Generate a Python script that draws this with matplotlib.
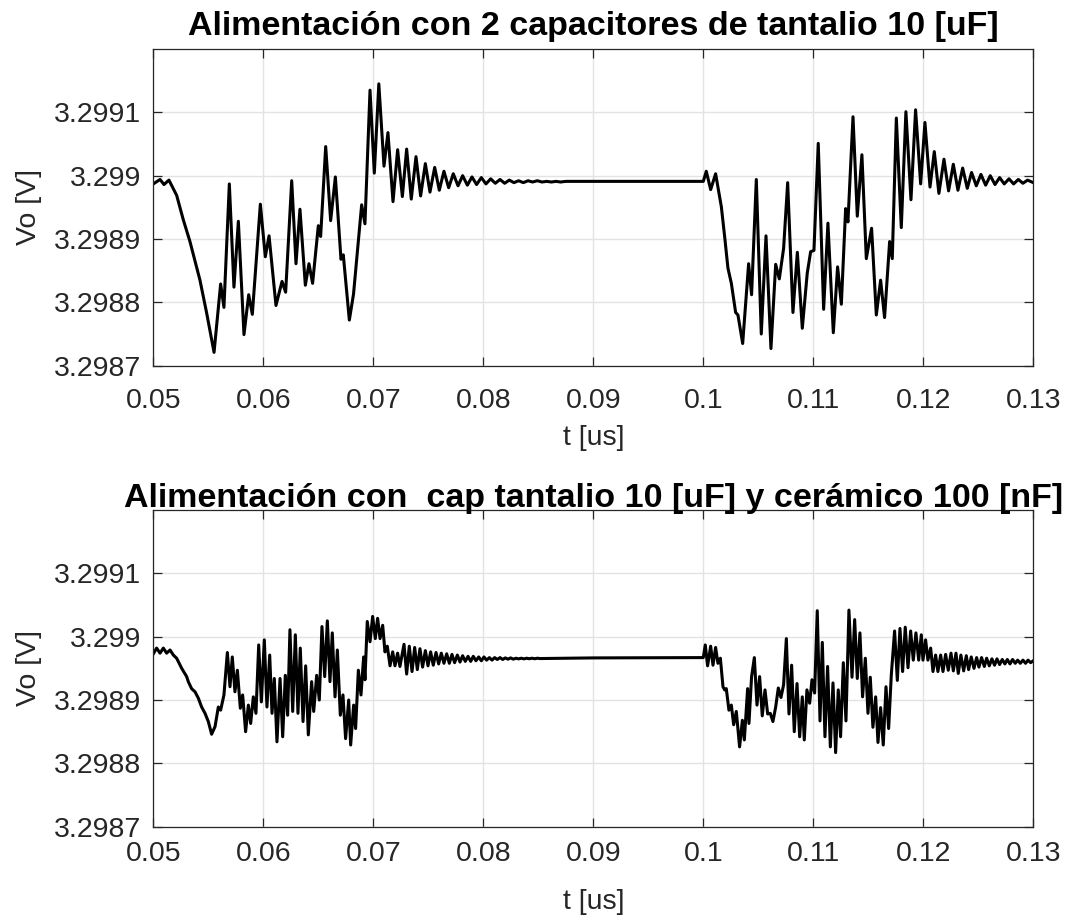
import matplotlib
matplotlib.use("Agg")
import matplotlib.pyplot as plt

plt.rcParams['font.family'] = ['Liberation Sans', 'DejaVu Sans']

# ---- upper trace: two 10 uF tantalum capacitors ----
top_t = [
    0.05000, 0.05061, 0.05097, 0.05142, 0.05212, 0.05273, 0.05333, 0.05424, 0.05485, 0.05552,
    0.05612, 0.05642, 0.05691, 0.05733, 0.05773, 0.05824, 0.05867, 0.05900, 0.05973, 0.06018,
    0.06052, 0.06115, 0.06170, 0.06203, 0.06258, 0.06297, 0.06333, 0.06382, 0.06415, 0.06448,
    0.06500, 0.06521, 0.06567, 0.06612, 0.06655, 0.06706, 0.06727, 0.06782, 0.06820, 0.06894,
    0.06924, 0.06970, 0.07009, 0.07050,
    0.07097, 0.07133, 0.07179, 0.07221, 0.07264, 0.07303, 0.07345, 0.07388, 0.07430, 0.07473,
    0.07515, 0.07558, 0.07600, 0.07642, 0.07685, 0.07727, 0.07770, 0.07812, 0.07855, 0.07897,
    0.07939, 0.07982, 0.08024, 0.08067, 0.08109, 0.08152, 0.08194, 0.08236, 0.08279, 0.08321,
    0.08364, 0.08406, 0.08448, 0.08491, 0.08533, 0.08576, 0.08618, 0.08661, 0.08703, 0.08750,
    0.10000,
    0.10027, 0.10067, 0.10112, 0.10164, 0.10194, 0.10224, 0.10255, 0.10294, 0.10315, 0.10358,
    0.10412, 0.10439, 0.10482, 0.10527, 0.10570, 0.10615, 0.10658, 0.10691, 0.10730, 0.10767,
    0.10815, 0.10855, 0.10900, 0.10945, 0.10976, 0.11006, 0.11045, 0.11094, 0.11133, 0.11182,
    0.11221, 0.11255, 0.11294, 0.11315, 0.11361, 0.11400, 0.11442, 0.11482, 0.11530, 0.11573,
    0.11612, 0.11648, 0.11694, 0.11718, 0.11755, 0.11800, 0.11842, 0.11888, 0.11930, 0.11976,
    0.12015, 0.12061, 0.12100, 0.12142, 0.12188, 0.12230, 0.12273, 0.12315, 0.12358, 0.12400,
    0.12439, 0.12482, 0.12524, 0.12567, 0.12609, 0.12652, 0.12694, 0.12736, 0.12779, 0.12821,
    0.12864, 0.12906, 0.12948, 0.13000,
]
top_v = [
    3.298987, 3.298994, 3.298986, 3.298993, 3.298969, 3.298930, 3.298896, 3.298835, 3.298783, 3.298721,
    3.298829, 3.298792, 3.298987, 3.298824, 3.298928, 3.298749, 3.298812, 3.298781, 3.298955, 3.298872,
    3.298905, 3.298795, 3.298833, 3.298816, 3.298992, 3.298861, 3.298947, 3.298827, 3.298861, 3.298830,
    3.298921, 3.298904, 3.299046, 3.298929, 3.298998, 3.298868, 3.298875, 3.298772, 3.298813, 3.298954,
    3.298924, 3.299135, 3.299004, 3.299145,
    3.299015, 3.299068, 3.298959, 3.299041, 3.298967, 3.299042, 3.298963, 3.299030, 3.298968, 3.299019,
    3.298974, 3.299013, 3.298977, 3.299007, 3.298981, 3.299003, 3.298984, 3.299000, 3.298985, 3.298998,
    3.298986, 3.298997, 3.298987, 3.298995, 3.298988, 3.298994, 3.298988, 3.298993, 3.298989, 3.298992,
    3.298989, 3.298992, 3.298990, 3.298992, 3.298990, 3.298991, 3.298990, 3.298991, 3.298990, 3.298991,
    3.298991,
    3.299007, 3.298978, 3.299003, 3.298951, 3.298904, 3.298854, 3.298830, 3.298784, 3.298780, 3.298735,
    3.298861, 3.298812, 3.298994, 3.298750, 3.298905, 3.298727, 3.298860, 3.298837, 3.298885, 3.298989,
    3.298784, 3.298879, 3.298759, 3.298846, 3.298880, 3.298882, 3.299051, 3.298789, 3.298925, 3.298752,
    3.298856, 3.298797, 3.298948, 3.298927, 3.299093, 3.298936, 3.299033, 3.298869, 3.298917, 3.298780,
    3.298835, 3.298776, 3.298896, 3.298869, 3.299091, 3.298918, 3.299101, 3.298962, 3.299104, 3.298987,
    3.299084, 3.298982, 3.299038, 3.298972, 3.299026, 3.298976, 3.299018, 3.298977, 3.299012, 3.298980,
    3.299005, 3.298984, 3.299002, 3.298985, 3.299000, 3.298986, 3.298997, 3.298987, 3.298995, 3.298987,
    3.298994, 3.298988, 3.298993, 3.298989,
]

# ---- lower trace: 10 uF tantalum + 100 nF ceramic ----
bot_t = [
    0.05000, 0.05030, 0.05061, 0.05091, 0.05121, 0.05152, 0.05182, 0.05212, 0.05258, 0.05303,
    0.05318, 0.05348, 0.05379, 0.05409, 0.05439, 0.05470, 0.05500, 0.05530, 0.05561, 0.05591,
    0.05612, 0.05642, 0.05673, 0.05697, 0.05718, 0.05742, 0.05764, 0.05791, 0.05812, 0.05839,
    0.05864, 0.05885, 0.05909, 0.05933, 0.05958, 0.05982, 0.06009, 0.06033, 0.06058, 0.06079,
    0.06100, 0.06124, 0.06152, 0.06176, 0.06200, 0.06221, 0.06242, 0.06267, 0.06291, 0.06315,
    0.06336, 0.06361, 0.06385, 0.06409, 0.06439, 0.06458, 0.06485, 0.06509, 0.06533, 0.06558,
    0.06582, 0.06606, 0.06627, 0.06652, 0.06673, 0.06700, 0.06724, 0.06748, 0.06776, 0.06794,
    0.06821, 0.06839, 0.06864, 0.06888, 0.06912, 0.06924, 0.06945, 0.06970, 0.06994, 0.07018,
    0.07039, 0.07061, 0.07085, 0.07106, 0.07127, 0.07152, 0.07176, 0.07197, 0.07221, 0.07242,
    0.07279, 0.07303, 0.07327, 0.07352, 0.07376, 0.07400, 0.07424, 0.07448, 0.07473, 0.07497,
    0.07521, 0.07545, 0.07570, 0.07594, 0.07618, 0.07642, 0.07667, 0.07691, 0.07715, 0.07739,
    0.07764, 0.07788, 0.07812, 0.07836, 0.07861, 0.07885, 0.07909, 0.07933, 0.07958, 0.07982,
    0.08006, 0.08030, 0.08055, 0.08079, 0.08103, 0.08127, 0.08152, 0.08176, 0.08200, 0.08224,
    0.08248, 0.08273, 0.08297, 0.08321, 0.08345, 0.08370, 0.08394, 0.08418, 0.08442, 0.08467,
    0.08491, 0.08515, 0.09000, 0.10000,
    0.10018, 0.10039, 0.10067, 0.10088, 0.10112, 0.10133, 0.10155, 0.10179, 0.10194, 0.10209,
    0.10233, 0.10255, 0.10276, 0.10300, 0.10330, 0.10355, 0.10373, 0.10403, 0.10415, 0.10439,
    0.10464, 0.10488, 0.10512, 0.10536, 0.10561, 0.10585, 0.10609, 0.10633, 0.10658, 0.10682,
    0.10706, 0.10730, 0.10755, 0.10779, 0.10803, 0.10827, 0.10852, 0.10876, 0.10900, 0.10918,
    0.10942, 0.10967, 0.10988, 0.11012, 0.11036, 0.11061, 0.11082, 0.11106, 0.11130, 0.11155,
    0.11179, 0.11203, 0.11227, 0.11248, 0.11273, 0.11297, 0.11324, 0.11352, 0.11376, 0.11400,
    0.11424, 0.11448, 0.11473, 0.11497, 0.11518, 0.11542, 0.11567, 0.11588, 0.11612, 0.11636,
    0.11661, 0.11685, 0.11709, 0.11739, 0.11764, 0.11788, 0.11812, 0.11836, 0.11861, 0.11885,
    0.11909, 0.11933, 0.11958, 0.11982, 0.11997, 0.12021, 0.12042, 0.12067, 0.12088, 0.12112,
    0.12133, 0.12158, 0.12179, 0.12203, 0.12227, 0.12252, 0.12273, 0.12297, 0.12318, 0.12342,
    0.12367, 0.12391, 0.12412, 0.12436, 0.12461, 0.12485, 0.12506, 0.12530, 0.12555, 0.12576,
    0.12600, 0.12624, 0.12648, 0.12670, 0.12694, 0.12718, 0.12742, 0.12764, 0.12788, 0.12812,
    0.12836, 0.12858, 0.12882, 0.12906, 0.12930, 0.12952, 0.12976, 0.13000,
]
bot_v = [
    3.298973, 3.298982, 3.298974, 3.298982, 3.298974, 3.298979, 3.298971, 3.298966, 3.298950, 3.298937,
    3.298929, 3.298918, 3.298913, 3.298903, 3.298889, 3.298879, 3.298866, 3.298846, 3.298858, 3.298889,
    3.298884, 3.298908, 3.298975, 3.298921, 3.298968, 3.298913, 3.298947, 3.298887, 3.298908, 3.298850,
    3.298892, 3.298863, 3.298905, 3.298879, 3.298987, 3.298897, 3.298995, 3.298889, 3.298971, 3.298879,
    3.298934, 3.298834, 3.298934, 3.298842, 3.298939, 3.298876, 3.299011, 3.298882, 3.299003, 3.298879,
    3.298982, 3.298866, 3.298954, 3.298845, 3.298929, 3.298882, 3.298939, 3.298900, 3.299016, 3.298937,
    3.299025, 3.298929, 3.299006, 3.298905, 3.298979, 3.298876, 3.298908, 3.298839, 3.298900, 3.298829,
    3.298892, 3.298855, 3.298947, 3.298908, 3.298968, 3.298932, 3.299024, 3.298992, 3.299032, 3.298997,
    3.299029, 3.298997, 3.299018, 3.298976, 3.298985, 3.298954, 3.298976, 3.298954, 3.298974, 3.298953,
    3.298988, 3.298941, 3.298985, 3.298945, 3.298983, 3.298948, 3.298981, 3.298952, 3.298978, 3.298954,
    3.298976, 3.298955, 3.298975, 3.298957, 3.298974, 3.298958, 3.298973, 3.298958, 3.298972, 3.298959,
    3.298971, 3.298960, 3.298970, 3.298961, 3.298969, 3.298961, 3.298969, 3.298962, 3.298968, 3.298962,
    3.298968, 3.298963, 3.298967, 3.298963, 3.298967, 3.298964, 3.298967, 3.298964, 3.2989665, 3.2989645,
    3.2989665, 3.2989645, 3.298966, 3.298965, 3.298966, 3.298965, 3.298966, 3.2989652, 3.298966, 3.2989652,
    3.298966, 3.2989655, 3.2989665, 3.298967,
    3.298987, 3.298954, 3.298985, 3.298955, 3.298983, 3.298958, 3.298966, 3.298921, 3.298916, 3.298918,
    3.298884, 3.298892, 3.298861, 3.298882, 3.298826, 3.298868, 3.298837, 3.298918, 3.298863, 3.298937,
    3.298967, 3.298892, 3.298937, 3.298875, 3.298916, 3.298878, 3.298879, 3.298866, 3.298889, 3.298919,
    3.298904, 3.298924, 3.298997, 3.298878, 3.298955, 3.298850, 3.298926, 3.298842, 3.298905, 3.298837,
    3.298916, 3.298895, 3.298932, 3.298911, 3.299041, 3.298867, 3.298991, 3.298842, 3.298953, 3.298826,
    3.298927, 3.298817, 3.298916, 3.298842, 3.298959, 3.298867, 3.299042, 3.298936, 3.299027, 3.298934,
    3.299006, 3.298905, 3.298966, 3.298879, 3.298936, 3.298857, 3.298905, 3.298833, 3.298888, 3.298829,
    3.298921, 3.298855, 3.298939, 3.299009, 3.298931, 3.299013, 3.298945, 3.299015, 3.298951, 3.299009,
    3.298963, 3.299006, 3.298963, 3.299003, 3.298963, 3.298995, 3.298963, 3.298982, 3.298945, 3.298971,
    3.298945, 3.298971, 3.298945, 3.298972, 3.298947, 3.298974, 3.298946, 3.298974, 3.298942, 3.298971,
    3.298946, 3.298970, 3.298948, 3.298968, 3.298950, 3.298967, 3.298952, 3.298967, 3.298953, 3.298966,
    3.298954, 3.298965, 3.298955, 3.298965, 3.298956, 3.298964, 3.298957, 3.298964, 3.298957, 3.298964,
    3.298958, 3.298963, 3.298958, 3.298963, 3.298958, 3.298963, 3.298959, 3.298962,
]

x_ticks = [0.05, 0.06, 0.07, 0.08, 0.09, 0.10, 0.11, 0.12, 0.13]
x_labels = ['0.05', '0.06', '0.07', '0.08', '0.09', '0.1', '0.11', '0.12', '0.13']
y_ticks = [3.2987, 3.2988, 3.2989, 3.2990, 3.2991]
y_labels = ['3.2987', '3.2988', '3.2989', '3.299', '3.2991']

titles = [
    'Alimentación con 2 capacitores de tantalio 10 [uF]',
    'Alimentación con  cap tantalio 10 [uF] y cerámico 100 [nF]',
]

AX_COLOR = '#262626'

fig = plt.figure(figsize=(10.67, 9.16), dpi=100)
ax_top = fig.add_axes([0.1437, 0.6008, 0.8247, 0.3457])
ax_bot = fig.add_axes([0.1437, 0.0975, 0.8247, 0.3457])

panels = [
    # axes, time, voltage, title, x tick pad, x label pad, title pad
    (ax_top, top_t, top_v, titles[0], 16, 8, 10),
    (ax_bot, bot_t, bot_v, titles[1], 10, 16, 2),
]

for ax, t, v, title, xpad, xlpad, tpad in panels:
    ax.plot(t, v, color='black', lw=2.2, solid_joinstyle='round')
    ax.set_xlim(0.05, 0.13)
    ax.set_ylim(3.2987, 3.2992)
    ax.set_xticks(x_ticks)
    ax.set_xticklabels(x_labels)
    ax.set_yticks(y_ticks)
    ax.set_yticklabels(y_labels)
    ax.grid(True, color='#e3e3e3', lw=1.0)
    ax.set_axisbelow(True)
    ax.tick_params(direction='in', length=6.5, width=0.9, colors=AX_COLOR,
                   labelsize=20.5, top=True, right=True, pad=9)
    ax.tick_params(axis='x', pad=xpad)
    for s in ax.spines.values():
        s.set_color(AX_COLOR)
        s.set_linewidth(0.9)
    ax.set_xlabel('t [us]', fontsize=20.5, color=AX_COLOR, labelpad=xlpad)
    ax.set_ylabel('Vo [V]', fontsize=20.5, color=AX_COLOR, labelpad=8)
    ax.set_title(title, fontsize=24.5, fontweight='bold', color='black', pad=tpad)

fig.savefig('out.png', dpi=100, facecolor='white')
